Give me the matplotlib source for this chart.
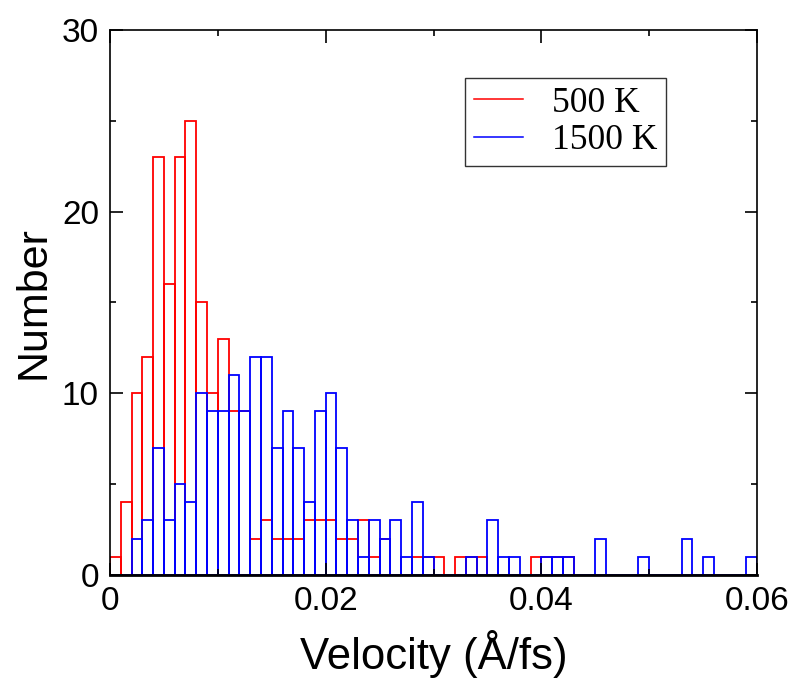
import numpy as np
import matplotlib
matplotlib.use('Agg')
import matplotlib.pyplot as plt
from matplotlib.ticker import MultipleLocator

# histogram counts, bin width 0.001 A/fs starting at 0
bin_width = 0.001
counts_500 = [1, 4, 10, 12, 23, 16, 23, 25, 15, 10,
              13, 9, 9, 2, 3, 2, 2, 2, 3, 3,
              3, 2, 2, 3, 1, 2, 0, 0, 1, 1,
              1, 0, 1, 1, 1, 0, 0, 0, 0, 1,
              1, 1, 1, 0, 0, 0, 0, 0, 0, 0,
              0, 0, 0, 0, 0, 0, 0, 0, 0, 0]
counts_1500 = [0, 0, 2, 3, 7, 3, 5, 4, 10, 9,
               9, 11, 9, 12, 12, 7, 9, 7, 4, 9,
               10, 7, 3, 1, 3, 2, 3, 1, 4, 1,
               0, 0, 0, 1, 0, 3, 1, 1, 0, 0,
               1, 1, 1, 0, 0, 2, 0, 0, 0, 1,
               0, 0, 0, 2, 0, 1, 0, 0, 0, 1]
labels = ['500 K', '1500 K']

edges = np.arange(len(counts_500)) * bin_width

plt.rcParams['font.family'] = ['Liberation Sans', 'DejaVu Sans']

fig = plt.figure(figsize=(7.96, 6.84), dpi=100)
ax = fig.add_axes([0.1382, 0.1594, 0.8128, 0.7967])

ax.bar(edges, counts_500, width=bin_width, align='edge', fill=False,
       edgecolor='#ff0000', linewidth=1.3)
ax.bar(edges, counts_1500, width=bin_width, align='edge', fill=False,
       edgecolor='#0000ff', linewidth=1.3)

# legend handles as plain lines
h1, = ax.plot([], [], color='#ff0000', lw=1.1)
h2, = ax.plot([], [], color='#0000ff', lw=1.1)
leg = ax.legend([h1, h2], labels, loc='upper right',
                bbox_to_anchor=(0.859, 0.912), borderaxespad=0,
                frameon=True, fancybox=False,
                prop={'family': 'Liberation Serif', 'size': 25.5},
                handlelength=1.4, handletextpad=0.8, borderpad=0.25,
                labelspacing=0.12)
leg.get_frame().set_edgecolor('black')
leg.get_frame().set_linewidth(1.0)

ax.set_xlim(0, 0.06)
ax.set_ylim(0, 30)
ax.xaxis.set_minor_locator(MultipleLocator(0.01))
ax.yaxis.set_major_locator(MultipleLocator(10))
ax.yaxis.set_minor_locator(MultipleLocator(5))
ax.set_xticks([0, 0.02, 0.04, 0.06])
ax.set_xticklabels(['0', '0.02', '0.04', '0.06'])

ax.tick_params(which='both', direction='in', top=True, right=True,
               width=1.2, labelsize=24, pad=8)
ax.tick_params(which='major', length=9)
ax.tick_params(which='minor', length=4.5)
for s in ax.spines.values():
    s.set_linewidth(1.2)
ax.spines['bottom'].set_linewidth(2.0)

ax.set_xlabel('Velocity (Å/fs)', fontsize=31.5, labelpad=9)
ax.set_ylabel('Number', fontsize=31, labelpad=6)

fig.savefig('out.png', dpi=100)
